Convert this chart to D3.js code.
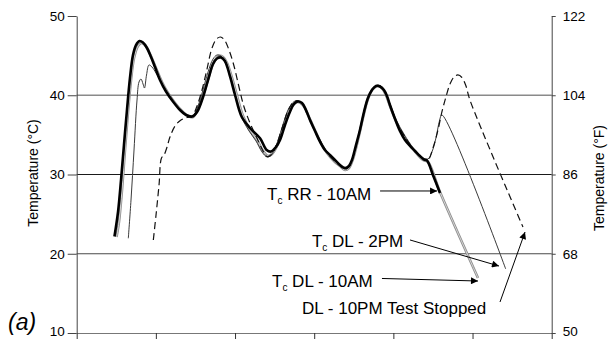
<!DOCTYPE html>
<html>
<head>
<meta charset="utf-8">
<script src="https://cdn.jsdelivr.net/npm/d3@7"></script>
<style>
  html, body { margin: 0; padding: 0; background: #fff; }
  svg { display: block; }
  text { font-family: "Liberation Sans", Arial, sans-serif; fill: #000; }
</style>
</head>
<body>
<svg id="chart" width="610" height="339"></svg>
<script>
// ---------------- DATA ----------------
const xTicks = [0, 1, 2, 3, 4, 5, 6];
const yTicksC = [10, 20, 30, 40, 50];
const yTicksF = [50, 68, 86, 104, 122];
const gridC = [20, 30, 40];

// [time (tick units), temperature °C]
const rrAM10 = [
  [0.477,22.18],[0.522,25.27],[0.560,29.31],[0.597,33.72],[0.635,38.14],[0.673,42.18],
  [0.711,45.08],[0.749,46.34],[0.793,46.85],[0.837,46.66],[0.888,45.96],[0.939,44.83],
  [0.989,43.56],[1.052,41.92],[1.128,40.47],[1.216,39.21],[1.305,38.14],[1.381,37.51],
  [1.459,37.32],[1.520,37.89],[1.583,39.40],[1.659,41.92],[1.722,43.94],[1.772,44.64],
  [1.823,44.76],[1.872,44.32],[1.937,42.37],[2.000,40.03],[2.084,37.29],[2.189,35.87],
  [2.316,34.57],[2.400,33.09],[2.454,32.90],[2.517,33.47],[2.568,34.35],[2.631,36.25],
  [2.694,37.92],[2.745,38.90],[2.795,39.21],[2.846,39.02],[2.896,38.14],[2.947,36.88],
  [3.010,35.49],[3.073,34.14],[3.136,33.09],[3.199,32.46],[3.262,31.83],[3.326,31.20],
  [3.389,30.82],[3.439,31.07],[3.477,31.83],[3.528,33.72],[3.578,35.62],[3.629,37.89],
  [3.679,39.65],[3.730,40.66],[3.780,41.17],[3.831,41.10],[3.881,40.66],[3.919,39.91],
  [3.957,38.77],[4.007,37.38],[4.083,35.49],[4.147,34.35],[4.210,33.60],[4.273,32.97],
  [4.336,32.33],[4.387,31.89],[4.425,31.77],[4.500,29.94],[4.589,27.67]
];
const dlAM10 = [
  [0.503,22.11],[0.534,24.01],[0.572,28.04],[0.610,33.09],[0.648,37.89],[0.686,41.92],
  [0.724,44.70],[0.774,46.21],[0.818,46.59],[0.862,46.34],[0.926,45.20],[1.001,43.44],
  [1.077,41.67],[1.153,40.28],[1.242,39.02],[1.330,38.01],[1.406,37.38],[1.469,37.26],
  [1.532,38.27],[1.595,39.91],[1.671,42.43],[1.734,44.20],[1.798,44.95],[1.848,44.83],
  [1.899,44.07],[1.962,42.18],[2.025,39.91],[2.101,37.38],[2.189,35.62],[2.278,34.35],
  [2.354,32.97],[2.417,32.33],[2.467,32.59],[2.530,33.60],[2.606,35.87],[2.682,38.01],
  [2.745,38.90],[2.795,39.15],[2.858,38.77],[2.922,37.51],[2.997,35.87],[3.073,34.23],
  [3.162,32.71],[3.250,31.70],[3.326,31.07],[3.389,30.57],[3.439,30.82],[3.490,31.96],
  [3.553,34.35],[3.616,37.13],[3.679,39.53],[3.742,40.79],[3.805,41.17],[3.856,40.91],
  [3.906,40.03],[3.957,38.64],[4.033,36.75],[4.121,35.11],[4.210,33.72],[4.299,32.59],
  [4.374,31.83],[4.437,31.58],[4.589,27.79],[5.069,16.94]
];
const dlPM2 = [
  [0.652,21.95],[0.686,26.78],[0.724,33.09],[0.762,39.40],[0.787,41.67],[0.812,42.05],
  [0.838,41.42],[0.856,40.91],[0.882,42.55],[0.913,43.82],[0.951,43.56],[1.001,42.81],
  [1.077,41.42],[1.153,40.03],[1.242,38.90],[1.330,37.89],[1.406,37.38],[1.469,37.38],
  [1.532,38.64],[1.595,40.66],[1.659,42.93],[1.722,44.57],[1.772,45.08],[1.823,44.95],
  [1.886,43.94],[1.949,41.92],[2.012,39.53],[2.088,37.13],[2.177,35.49],[2.265,34.23],
  [2.341,32.84],[2.404,32.21],[2.454,32.40],[2.517,33.60],[2.593,35.87],[2.669,38.14],
  [2.732,39.09],[2.783,39.34],[2.846,39.02],[2.909,37.76],[2.985,36.12],[3.073,34.35],
  [3.162,32.84],[3.250,31.83],[3.326,31.14],[3.389,30.69],[3.439,31.01],[3.490,32.21],
  [3.553,34.61],[3.616,37.38],[3.679,39.65],[3.742,40.91],[3.805,41.29],[3.856,41.04],
  [3.906,40.15],[3.957,38.90],[4.033,36.88],[4.121,35.24],[4.210,33.85],[4.299,32.71],
  [4.374,32.08],[4.437,31.96],[4.487,32.84],[4.538,34.61],[4.582,36.75],[4.613,37.51],
  [5.419,18.08]
];
const dlPM10 = [
  [0.968,21.74],[1.002,24.89],[1.040,28.68],[1.071,32.08],[1.103,32.46],[1.141,33.47],
  [1.178,34.73],[1.242,36.12],[1.317,36.88],[1.393,37.19],[1.459,37.38],[1.520,38.64],
  [1.583,40.66],[1.646,43.31],[1.709,45.96],[1.766,47.10],[1.816,47.35],[1.867,46.97],
  [1.924,45.71],[1.987,43.69],[2.050,41.04],[2.114,38.52],[2.189,36.50],[2.265,34.86],
  [2.341,33.22],[2.404,32.27],[2.454,32.46],[2.517,33.55],[2.593,35.80],[2.669,38.05],
  [2.732,39.05],[2.783,39.28],[2.846,38.95],[2.909,37.70],[2.985,36.05],[3.073,34.30],
  [3.162,32.80],[3.250,31.78],[3.326,31.10],[3.389,30.65],[3.439,30.95],[3.490,32.15],
  [3.553,34.55],[3.616,37.30],[3.679,39.60],[3.742,40.85],[3.805,41.22],[3.856,40.98],
  [3.906,40.10],[3.957,38.85],[4.033,36.82],[4.121,35.18],[4.210,33.80],[4.299,32.66],
  [4.374,32.02],[4.437,31.83],[4.500,33.34],[4.564,35.62],[4.613,37.89],[4.664,39.78],
  [4.715,41.42],[4.765,42.30],[4.815,42.56],[4.866,42.24],[4.917,41.17],[4.967,39.40],
  [5.637,23.38]
];

// annotations: label, text anchor [t, °C], arrow from [t, °C] to [t, °C]
const annoLabels = ["RR - 10AM", "DL - 2PM", "DL - 10AM", "DL - 10PM Test Stopped"];
const annoSubscript = [true, true, true, false];
const annoText = [[2.404,26.78],[2.972,20.85],[2.467,15.80],[2.846,12.46]];
const annoFrom = [[3.832,27.92],[4.210,21.74],[3.856,16.88],[5.347,13.91]];
const annoTo   = [[4.552,27.92],[5.334,18.45],[5.069,16.56],[5.663,22.74]];

// ---------------- CHART ----------------
const svg = d3.select("#chart");
const x = d3.scaleLinear().domain([0, 6]).range([76.7, 551.7]);
const y = d3.scaleLinear().domain([10, 50]).range([333, 16]);
const yF = d3.scaleLinear().domain([50, 122]).range([333, 16]);

// gridlines
const gridColor = {40: "#8a8a8a", 30: "#1a1a1a", 20: "#4a4a4a"};
const gridWidth = {40: 1.4, 30: 1, 20: 1};
svg.append("g").selectAll("line").data(gridC).join("line")
  .attr("x1", x(0)).attr("x2", x(6))
  .attr("y1", d => y(d)).attr("y2", d => y(d))
  .attr("stroke", d => gridColor[d]).attr("stroke-width", d => gridWidth[d]);

// bottom axis
const gx = svg.append("g").attr("transform", `translate(0,${y(10)})`)
  .call(d3.axisBottom(x).tickValues(xTicks).tickSize(7).tickSizeOuter(0).tickFormat(""));
gx.select(".domain").attr("stroke", "#777").attr("stroke-width", 1.2);
gx.selectAll(".tick line").attr("stroke", "#333");

// left axis
const gl = svg.append("g").attr("transform", `translate(${x(0)},0)`)
  .call(d3.axisLeft(y).tickValues(yTicksC).tickSize(9).tickSizeOuter(0).tickPadding(3));
gl.select(".domain").attr("stroke", "#444");
gl.selectAll(".tick line").attr("stroke", "#444");
gl.selectAll(".tick text").attr("font-size", 13.5).attr("font-family", "Liberation Sans, Arial, sans-serif").attr("fill", "#000")
  .attr("dy", d => d === 10 ? "0.2em" : "0.32em");

// right axis
const gr = svg.append("g").attr("transform", `translate(${x(6)},0)`)
  .call(d3.axisRight(yF).tickValues(yTicksF).tickSize(4).tickSizeOuter(0).tickPadding(7));
gr.select(".domain").attr("stroke", "#444");
gr.selectAll(".tick line").attr("stroke", "#444");
gr.selectAll(".tick text").attr("font-size", 13.5).attr("font-family", "Liberation Sans, Arial, sans-serif").attr("fill", "#000")
  .attr("dy", d => d === 50 ? "0.2em" : "0.32em");

// axis titles
svg.append("text").attr("transform", "translate(33,173) rotate(-90)")
  .attr("text-anchor", "middle").attr("dy", "0.35em").attr("font-size", 14)
  .text("Temperature (°C)");
svg.append("text").attr("transform", "translate(599,178) rotate(-90)")
  .attr("text-anchor", "middle").attr("dy", "0.35em").attr("font-size", 14)
  .text("Temperature (°F)");

// lines
const line = d3.line().x(d => x(d[0])).y(d => y(d[1])).curve(d3.curveCatmullRom.alpha(0.5));
svg.append("path").datum(dlAM10).attr("d", line)
  .attr("fill", "none").attr("stroke", "#8e8e8e").attr("stroke-width", 2.6);
svg.append("path").datum(dlAM10).attr("d", line)
  .attr("fill", "none").attr("stroke", "#d4d4d4").attr("stroke-width", 1);
svg.append("path").datum(dlPM2).attr("d", line)
  .attr("fill", "none").attr("stroke", "#3a3a3a").attr("stroke-width", 1);
svg.append("path").datum(dlPM10).attr("d", line)
  .attr("fill", "none").attr("stroke", "#111").attr("stroke-width", 1.2)
  .attr("stroke-dasharray", "7,4");
svg.append("path").datum(rrAM10).attr("d", line)
  .attr("fill", "none").attr("stroke", "#000").attr("stroke-width", 2.6)
  .attr("stroke-linejoin", "round");

// arrow marker
svg.append("defs").append("marker")
  .attr("id", "arr").attr("viewBox", "0 0 10 10").attr("refX", 10).attr("refY", 5)
  .attr("markerWidth", 9).attr("markerHeight", 7).attr("markerUnits", "userSpaceOnUse")
  .attr("orient", "auto")
  .append("path").attr("d", "M0,0 L10,5 L0,10 z").attr("fill", "#000");

// annotations
annoLabels.forEach((lab, i) => {
  svg.append("line")
    .attr("x1", x(annoFrom[i][0])).attr("y1", y(annoFrom[i][1]))
    .attr("x2", x(annoTo[i][0])).attr("y2", y(annoTo[i][1]))
    .attr("stroke", "#000").attr("stroke-width", 1)
    .attr("marker-end", "url(#arr)");
  const t = svg.append("text")
    .attr("x", x(annoText[i][0])).attr("y", y(annoText[i][1]))
    .attr("font-size", 17);
  if (annoSubscript[i]) {
    t.append("tspan").text("T");
    t.append("tspan").attr("font-size", 10).attr("dy", 4).text("c");
    t.append("tspan").attr("dy", -4).text(" " + lab);
  } else {
    t.append("tspan").text(lab);
  }
});

// panel label
svg.append("text").attr("x", 8).attr("y", 330)
  .attr("font-family", "Liberation Serif, Times New Roman, serif")
  .attr("font-style", "italic").attr("font-size", 23).text("(a)");
</script>
</body>
</html>
